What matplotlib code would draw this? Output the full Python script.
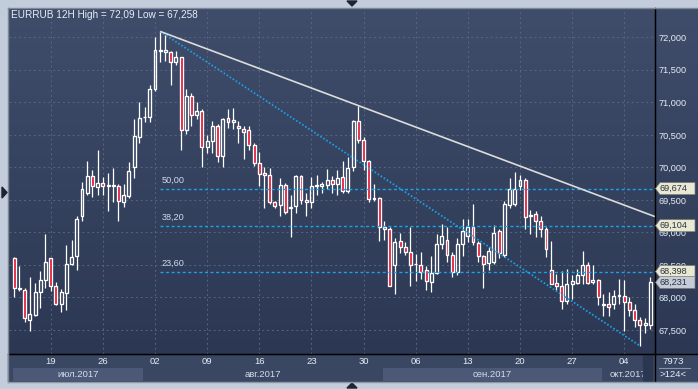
import matplotlib
matplotlib.use("Agg")
import matplotlib.pyplot as plt
import matplotlib.transforms as mtransforms
from matplotlib.patches import Rectangle, Polygon
import numpy as np

plt.rcParams['font.family'] = ['Liberation Sans', 'DejaVu Sans']

# ---- data (12H candles, EURRUB) ----
opens = [68.60, 68.13, 68.12, 67.66, 67.73, 68.09, 68.27, 68.60, 68.18, 67.90,
         68.07, 68.52, 68.63, 69.25, 69.60, 69.86, 69.70, 69.76, 69.71, 69.71,
         69.71, 69.47, 69.56, 70.01, 70.47, 70.77, 70.78, 71.20, 71.79, 71.78,
         71.78, 71.62, 71.69, 70.58, 71.10, 70.80, 70.87, 70.32, 70.40, 70.64,
         70.18, 70.76, 70.69, 70.63, 70.59, 70.57, 70.35, 70.06, 69.92, 69.88,
         69.46, 69.42, 69.73, 69.38, 69.40, 69.86, 69.50, 69.47, 69.71, 69.72,
         69.73, 69.80, 69.75, 69.85, 69.63, 70.00, 70.71, 70.42, 70.10, 69.51,
         69.53, 69.09, 69.06, 68.50, 68.87, 68.78, 68.70, 68.51, 68.50, 68.43,
         68.24, 68.37, 68.82, 68.88, 68.65, 68.39, 68.82, 68.95, 69.08, 68.84,
         68.63, 68.53, 68.54, 69.02, 68.66, 69.42, 69.44, 69.71, 69.80, 69.25,
         69.28, 69.18, 69.06, 68.42, 68.22, 68.17, 67.95, 68.21, 68.22, 68.35,
         68.50, 68.24, 68.27, 67.88, 67.90, 67.90, 68.03, 68.02, 67.93, 67.81,
         67.65, 67.57, 67.58]
highs = [68.62, 68.48, 68.14, 68.32, 68.22, 68.40, 68.98, 68.61, 68.24, 68.13,
         68.80, 68.89, 69.26, 69.78, 70.10, 69.96, 70.26, 69.85, 69.91, 69.99,
         69.75, 69.75, 70.08, 70.75, 71.01, 70.93, 71.26, 72.00, 72.09, 72.03,
         71.79, 71.79, 71.70, 71.20, 71.15, 71.00, 70.89, 70.49, 70.72, 70.66,
         70.76, 70.89, 70.92, 70.72, 70.63, 70.63, 70.37, 70.24, 70.00, 69.99,
         69.48, 69.83, 69.76, 69.58, 69.89, 69.89, 69.60, 69.85, 69.88, 69.78,
         69.98, 69.86, 69.96, 70.10, 70.16, 70.73, 70.95, 70.46, 70.12, 69.74,
         69.55, 69.18, 69.09, 68.92, 68.99, 68.85, 69.08, 68.67, 68.70, 68.48,
         68.63, 68.98, 69.13, 69.09, 68.70, 68.92, 69.21, 69.21, 69.44, 68.87,
         68.66, 68.78, 69.11, 69.06, 69.49, 69.83, 69.93, 69.88, 69.84, 69.34,
         69.33, 69.26, 69.08, 68.87, 68.36, 68.40, 68.44, 68.34, 68.44, 68.72,
         68.55, 68.50, 68.28, 68.06, 68.08, 68.12, 68.29, 68.27, 68.00, 67.90,
         67.70, 67.68, 68.32]
lows = [68.00, 68.10, 67.62, 67.48, 67.71, 67.84, 68.14, 68.10, 67.88, 67.77,
        67.80, 68.50, 68.43, 69.18, 69.57, 69.54, 69.58, 69.57, 69.33, 69.47,
        69.17, 69.39, 69.53, 69.83, 70.38, 70.70, 70.69, 71.18, 71.62, 71.63,
        71.27, 71.57, 70.26, 70.51, 70.64, 70.74, 70.00, 70.22, 70.22, 70.08,
        70.01, 70.60, 70.59, 70.38, 70.13, 70.27, 70.02, 69.71, 69.38, 69.43,
        69.37, 69.26, 69.29, 68.93, 69.30, 69.44, 69.25, 69.38, 69.57, 69.60,
        69.67, 69.60, 69.57, 69.60, 69.60, 69.95, 70.38, 69.96, 69.46, 69.48,
        68.87, 68.88, 68.17, 68.05, 68.68, 68.65, 68.18, 68.26, 68.29, 68.12,
        68.08, 68.36, 68.75, 68.54, 68.31, 68.34, 68.63, 68.85, 68.80, 68.55,
        68.15, 68.42, 68.52, 68.60, 68.62, 69.38, 69.40, 69.65, 69.06, 68.97,
        68.93, 68.93, 68.62, 68.20, 68.12, 67.83, 67.90, 67.97, 68.21, 68.21,
        68.20, 68.21, 67.88, 67.72, 67.72, 67.83, 67.90, 67.48, 67.71, 67.55,
        67.258, 67.45, 67.52]
closes = [68.15, 68.14, 67.69, 67.74, 68.09, 68.27, 68.55, 68.18, 67.90, 68.08,
          68.52, 68.62, 69.21, 69.66, 69.86, 69.72, 69.76, 69.72, 69.715, 69.72,
          69.48, 69.58, 69.95, 70.48, 70.76, 70.78, 71.20, 71.80, 71.80, 71.80,
          71.62, 71.69, 70.58, 71.10, 70.80, 70.87, 70.32, 70.41, 70.64, 70.18,
          70.74, 70.69, 70.73, 70.60, 70.55, 70.35, 70.06, 69.90, 69.88, 69.46,
          69.40, 69.73, 69.31, 69.39, 69.86, 69.50, 69.47, 69.71, 69.72, 69.74,
          69.80, 69.75, 69.84, 69.63, 69.99, 70.71, 70.42, 70.10, 69.51, 69.53,
          69.09, 69.05, 68.18, 68.85, 68.77, 68.70, 68.50, 68.52, 68.39, 68.25,
          68.37, 68.82, 68.95, 68.65, 68.39, 68.82, 69.02, 69.08, 68.85, 68.63,
          68.52, 68.72, 68.99, 68.68, 69.43, 69.67, 69.67, 69.80, 69.23, 69.27,
          69.18, 69.06, 68.75, 68.21, 68.17, 67.94, 68.21, 68.25, 68.35, 68.50,
          68.22, 68.27, 68.00, 67.90, 67.86, 68.03, 68.04, 67.93, 67.81, 67.65,
          67.57, 67.61, 68.231]

day_labels = ['19', '26', '02', '09', '16', '23', '30', '06', '13', '20', '27', '04']
day_idx = [7, 17, 27, 37, 47, 57, 67, 77, 87, 97, 107, 117]
month_labels = ['июл.2017', 'авг.2017', 'сен.2017', 'окт.2017']
month_start = [0, 25, 71, 113]

price_ticks = [67.5, 68.0, 68.5, 69.0, 69.5, 70.0, 70.5, 71.0, 71.5, 72.0]
hi_idx, hi_val = 28, 72.09
lo_idx, lo_val = 120, 67.258
trend_pass = (66, 70.95)          # second touch of the upper trendline
fib_levels = [23.6, 38.2, 50.0]
last_close = 68.231
bar_count = 124
volume = 7973

# ---- figure ----
W, H = 698, 389
fig = plt.figure(figsize=(W / 100, H / 100), dpi=100)
fig.patch.set_facecolor('#c2ccda')


def fr(x0, y0, x1, y1):
    return [x0 / W, 1 - y1 / H, (x1 - x0) / W, (y1 - y0) / H]


# dark panel + gradient
bg = fig.add_axes(fr(8, 8, 698, 354))
grad = np.linspace(0, 1, 256).reshape(-1, 1)
top_c = np.array([0x3f, 0x4d, 0x6b]) / 255
bot_c = np.array([0x2c, 0x38, 0x53]) / 255
img = top_c[None, None, :] * (1 - grad[:, :, None]) + bot_c[None, None, :] * grad[:, :, None]
bg.imshow(img, aspect='auto', extent=[0, 1, 0, 1])
bg.set_axis_off()

fig.add_artist(Rectangle((8 / W, 1 - 381 / H), 690 / W, 27 / H,
                         transform=fig.transFigure, color='#3a4763', zorder=0))

ax = fig.add_axes(fr(9, 8, 655, 354))
ax.set_facecolor('none')
x_lo, x_hi = -1.0, 122.9
ax.set_xlim(x_lo, x_hi)
ax.set_ylim(67.131, 72.450)

# grid
for v in price_ticks:
    ax.axhline(v, color='#58657f', lw=0.7, ls=(0, (2, 3)), zorder=1)
for d in day_idx:
    ax.axvline(d, color='#58657f', lw=0.7, ls=(0, (2, 3)), zorder=1)

# candles
red = '#e3102f'
for i, (o, h, l, c) in enumerate(zip(opens, highs, lows, closes)):
    top, bot = max(o, c), min(o, c)
    ax.vlines(i, top, h, color='white', lw=0.9, zorder=3)
    ax.vlines(i, l, bot, color='white', lw=0.9, zorder=3)
    fc = red if c < o else 'none'
    ax.add_patch(Rectangle((i - 0.28, bot), 0.56, max(top - bot, 0.012),
                           facecolor=fc, edgecolor='white', lw=0.95, zorder=4))

# fibonacci levels
rng = hi_val - lo_val
fib_vals = [lo_val + rng * f / 100 for f in fib_levels]
for f, v in zip(fib_levels, fib_vals):
    ax.plot([hi_idx, x_hi], [v, v], color='#19a2ec', lw=1.0, ls=(0, (2.2, 1.8)), zorder=5)
    ax.text(hi_idx + 0.3, v + 0.055, f'{f:.2f}'.replace('.', ','), color='#cfdcf2',
            fontsize=6.6, va='bottom', ha='left', zorder=6)

# diagonal from high to low (dotted)
ax.plot([hi_idx, lo_idx], [hi_val, lo_val], color='#1d9fe6', lw=1.3,
        ls=(0, (0.9, 1.1)), zorder=5)

# upper trendline
slope = (trend_pass[1] - hi_val) / (trend_pass[0] - hi_idx)
ax.plot([hi_idx, x_hi], [hi_val, hi_val + slope * (x_hi - hi_idx)],
        color='#dcdcdc', lw=1.2, zorder=6, solid_capstyle='butt')

# axes cosmetics
for s in ['top', 'left']:
    ax.spines[s].set_visible(False)
ax.spines['right'].set_color('black')
ax.spines['bottom'].set_color('black')
ax.yaxis.tick_right()
ax.set_yticks(price_ticks)
ax.set_yticklabels([f'{v:.3f}'.replace('.', ',') for v in price_ticks])
ax.tick_params(axis='y', length=0, pad=2.2, labelsize=6.6, colors='#e6ecf6')
ax.set_xticks(day_idx)
ax.set_xticklabels(day_labels)
ax.tick_params(axis='x', length=0, pad=2.5, labelsize=6.8, colors='#e6ecf6')

# month boxes
xt = ax.get_xaxis_transform()
ah = 346.0
bounds = month_start + [x_hi + 0.2]
for k, lab in enumerate(month_labels):
    a = max(bounds[k] - 0.25, -0.3)
    b = min(bounds[k + 1] - 0.25, x_hi)
    col = '#4b5977' if k % 2 == 0 else '#3a4763'
    ax.add_patch(Rectangle((a, -27 / ah), b - a, 13 / ah, transform=xt,
                           facecolor=col, edgecolor='none', clip_on=False, zorder=2))
    ax.text((a + b) / 2, -20.5 / ah, lab, transform=xt, ha='center', va='center',
            fontsize=6.8, color='#d5dcea', clip_on=False, zorder=3)

# scroll thumb strip
fig.add_artist(Rectangle((643 / W, 1 - 381 / H), 9 / W, 26 / H,
                         transform=fig.transFigure, color='#2b3650', zorder=3))

# lines of the frame
fig.add_artist(plt.Line2D([8 / W, 1], [1 - 354 / H] * 2, color='black', lw=1,
                          transform=fig.transFigure, zorder=4))
fig.add_artist(plt.Line2D([655 / W] * 2, [1 - 381 / H, 1 - 8 / H], color='black', lw=1,
                          transform=fig.transFigure, zorder=4))
fig.add_artist(plt.Line2D([8 / W, 1], [1 - 7.5 / H] * 2, color='#7d8796', lw=1,
                          transform=fig.transFigure, zorder=4))
fig.add_artist(plt.Line2D([8 / W] * 2, [1 - 381.5 / H, 1 - 7.5 / H], color='#7d8796', lw=1,
                          transform=fig.transFigure, zorder=4))
fig.add_artist(plt.Line2D([8 / W, 1], [1 - 381.5 / H] * 2, color='#8d97a6', lw=1,
                          transform=fig.transFigure, zorder=4))

# title
fig.text(11 / W, 1 - 15 / H, f'EURRUB 12H High = {hi_val:.2f} Low = {lo_val:.3f}'.replace('.', ','),
         color='#e8eef8', fontsize=7.2, ha='left', va='center')

# right price boxes
bt = mtransforms.blended_transform_factory(fig.transFigure, ax.transData)
hh = 6.0 / (346 / (72.450 - 67.131))
for v, col in zip(fib_vals + [last_close], ['#e9e8d2'] * 3 + ['#c6cbd8']):
    pts = [(655.5 / W, v), (660 / W, v + hh), (695 / W, v + hh),
           (695 / W, v - hh), (660 / W, v - hh)]
    fig.add_artist(Polygon(pts, closed=True, transform=bt, facecolor=col,
                           edgecolor='#7a7c78', lw=0.5, zorder=6))
    fig.text(659.5 / W, v, f'{v:.3f}'.replace('.', ','), transform=bt,
             fontsize=6.6, color='#2a3242', ha='left', va='center', zorder=7)

# bottom-right info box
fig.text(673 / W, 1 - 361 / H, str(volume), color='#e6ecf6', fontsize=6.8,
         ha='center', va='center')
fig.add_artist(plt.Line2D([659 / W, 690 / W], [1 - 368 / H] * 2, color='#8a94a8', lw=0.8,
                          transform=fig.transFigure))
fig.text(673 / W, 1 - 374.5 / H, f'>{bar_count}<', color='#e6ecf6', fontsize=6.8,
         ha='center', va='center')

# small triangles on the frame
tri_c = '#1e2431'
fig.add_artist(Polygon([(347 / W, 1 - 1 / H), (357 / W, 1 - 1 / H), (352 / W, 1 - 6 / H)],
                       transform=fig.transFigure, color=tri_c))
fig.add_artist(Polygon([(347 / W, 1 - 388 / H), (357 / W, 1 - 388 / H), (352 / W, 1 - 383 / H)],
                       transform=fig.transFigure, color=tri_c))
fig.add_artist(Polygon([(2 / W, 1 - 187 / H), (2 / W, 1 - 198 / H), (7 / W, 1 - 192.5 / H)],
                       transform=fig.transFigure, color=tri_c))

fig.savefig('out.png', dpi=100, facecolor=fig.get_facecolor())
